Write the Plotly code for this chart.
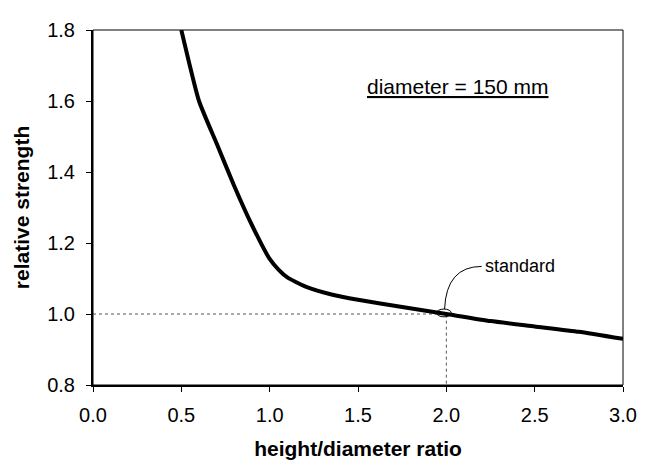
import plotly.graph_objects as go

# data
hd_ratio = [0.5, 0.6, 0.7, 0.8, 0.9, 1.0, 1.05, 1.1, 1.2, 1.35, 1.5, 1.75, 2.0, 2.25, 2.5, 2.75, 3.0]
rel_strength = [1.80, 1.60, 1.48, 1.36, 1.25, 1.155, 1.125, 1.103, 1.078, 1.055, 1.04, 1.02, 1.00, 0.98, 0.965, 0.95, 0.93]
x_ticks = [0.0, 0.5, 1.0, 1.5, 2.0, 2.5, 3.0]
y_ticks = [0.8, 1.0, 1.2, 1.4, 1.6, 1.8]
std_ratio = 2.0
std_strength = 1.0

FONT = "Liberation Sans, Arial, sans-serif"

fig = go.Figure()
# dotted reference lines
fig.add_trace(go.Scatter(x=[0, std_ratio, std_ratio], y=[std_strength, std_strength, 0.8],
                         mode="lines", line=dict(color="#555555", width=1, dash="dot"),
                         hoverinfo="skip", showlegend=False))
fig.add_trace(go.Scatter(x=hd_ratio, y=rel_strength, mode="lines",
                         line=dict(color="black", width=4, shape="spline", smoothing=0.5),
                         showlegend=False))

# ellipse around standard point
fig.add_shape(type="circle", xref="x", yref="y",
              x0=std_ratio - 0.055, x1=std_ratio + 0.028,
              y0=std_strength - 0.008, y1=std_strength + 0.014,
              line=dict(color="black", width=1))
# connector curve
fig.add_shape(type="path", xref="x", yref="y",
              path="M 1.99,1.014 Q 2.0,1.134 2.2,1.134",
              line=dict(color="black", width=1))
fig.add_annotation(x=2.21, y=1.134, xref="x", yref="y", text="standard",
                   showarrow=False, xanchor="left", yanchor="middle",
                   font=dict(family=FONT, size=18, color="black"))
fig.add_annotation(x=2.068, y=1.64, xref="x", yref="y", text="<u>diameter = 150 mm</u>",
                   showarrow=False, xanchor="center", yanchor="middle",
                   font=dict(family=FONT, size=21, color="black"))
# frame top/right
fig.add_shape(type="rect", xref="x domain", yref="y domain", x0=0, x1=1, y0=0, y1=1,
              line=dict(color="black", width=1))

fig.update_xaxes(range=[0, 3.0], tickvals=x_ticks, ticktext=[f"{v:.1f}" for v in x_ticks],
                 showgrid=False, zeroline=False, showline=True, linecolor="black", linewidth=2,
                 ticks="outside", ticklen=5, tickcolor="black", ticklabelstandoff=6,
                 ticklabeloverflow="allow", automargin=False,
                 tickfont=dict(family=FONT, size=20, color="black"),
                 title=dict(text="<b>height/diameter ratio</b>", standoff=16,
                            font=dict(family=FONT, size=21, color="black")))
fig.update_yaxes(range=[0.8, 1.8], tickvals=y_ticks, ticktext=[f"{v:.1f}" for v in y_ticks],
                 showgrid=False, zeroline=False, showline=True, linecolor="black", linewidth=2,
                 ticks="outside", ticklen=5, tickcolor="black", ticklabelstandoff=7,
                 ticklabeloverflow="allow",
                 tickfont=dict(family=FONT, size=20, color="black"),
                 title=dict(text="<b>relative strength</b>", standoff=12,
                            font=dict(family=FONT, size=21, color="black")))
fig.update_layout(width=639, height=456, margin=dict(l=85, r=24, t=11, b=79),
                  plot_bgcolor="white", paper_bgcolor="white")
fig.write_html("out.html")
